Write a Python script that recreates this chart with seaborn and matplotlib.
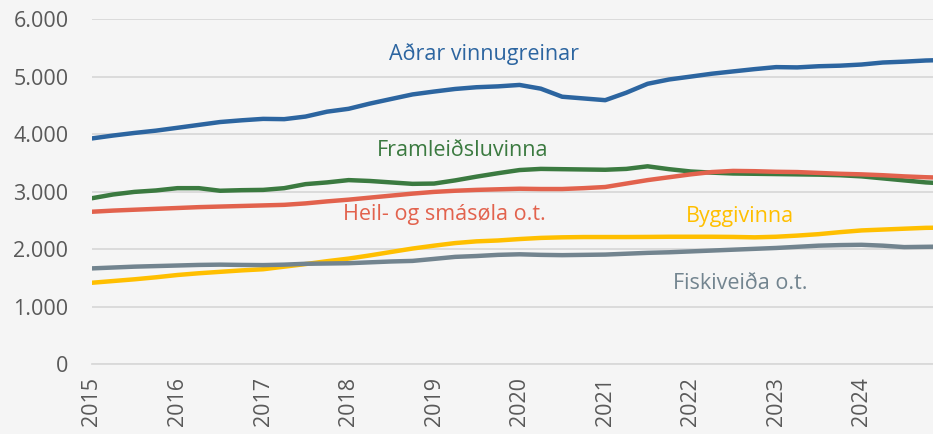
import matplotlib
matplotlib.use("Agg")
import matplotlib.pyplot as plt
import matplotlib.dates as mdates
from matplotlib.ticker import FuncFormatter
import pandas as pd
import numpy as np
import seaborn as sns

sns.set_style("white")
plt.rcParams['font.family'] = ['Open Sans', 'DejaVu Sans']

# quarterly points (2015Q1 .. 2025Q1)
dates = pd.date_range("2015-01-01", "2025-01-01", freq="QS")

adrar = [3925, 3975, 4020, 4060, 4110, 4160, 4210, 4240, 4265, 4260,
         4305, 4390, 4440, 4530, 4610, 4690, 4740, 4785, 4815, 4830,
         4855, 4790, 4650, 4620, 4590, 4720, 4875, 4950, 5000, 5050,
         5090, 5130, 5165, 5160, 5180, 5190, 5210, 5245, 5260, 5280,
         5290]
framleidsla = [2885, 2950, 2995, 3020, 3060, 3060, 3015, 3025, 3030, 3060,
               3130, 3160, 3200, 3185, 3160, 3135, 3140, 3195, 3260, 3320,
               3375, 3395, 3390, 3385, 3380, 3395, 3440, 3390, 3350, 3330,
               3315, 3310, 3305, 3300, 3295, 3285, 3265, 3230, 3195, 3160,
               3140]
verslun = [2650, 2670, 2685, 2700, 2715, 2730, 2740, 2750, 2760, 2770,
           2795, 2830, 2860, 2895, 2930, 2965, 2995, 3015, 3030, 3040,
           3050, 3045, 3045, 3060, 3080, 3140, 3200, 3250, 3300, 3340,
           3360, 3355, 3345, 3340, 3325, 3310, 3300, 3285, 3265, 3250,
           3240]
bygging = [1415, 1445, 1475, 1510, 1550, 1580, 1605, 1630, 1650, 1695,
           1740, 1790, 1835, 1890, 1950, 2010, 2060, 2105, 2135, 2150,
           2175, 2195, 2205, 2210, 2210, 2210, 2212, 2215, 2215, 2215,
           2212, 2205, 2215, 2235, 2260, 2295, 2325, 2340, 2355, 2370,
           2375]
fiskur = [1665, 1680, 1695, 1705, 1715, 1725, 1730, 1725, 1722, 1730,
          1745, 1750, 1755, 1770, 1785, 1795, 1830, 1865, 1880, 1900,
          1910, 1900, 1895, 1900, 1905, 1920, 1935, 1945, 1960, 1975,
          1990, 2005, 2020, 2040, 2060, 2070, 2075, 2060, 2035, 2040,
          2045]

names = ["Aðrar vinnugreinar", "Framleiðsluvinna", "Heil- og smásøla o.t.",
         "Byggivinna", "Fiskiveiða o.t."]
colors = ["#2c65a0", "#3b7a40", "#e2624d", "#ffbf00", "#72848f"]
# label positions (date, value) for the inline series names
label_pos = [("2019-08-01", 5400), ("2019-05-01", 3720), ("2019-02-15", 2610),
             ("2022-08-01", 2575), ("2022-08-01", 1410)]

df = pd.DataFrame({"dato": np.tile(dates, 5),
                   "series": np.repeat(names, len(dates)),
                   "value": adrar + framleidsla + verslun + bygging + fiskur})

bg = "#f5f5f5"
fig = plt.figure(figsize=(9.33, 4.34), dpi=100, facecolor=bg)
ax = fig.add_axes([0.0986, 0.161, 0.9014, 0.795])
ax.set_facecolor(bg)

sns.lineplot(data=df, x="dato", y="value", hue="series", hue_order=names,
             palette=colors, linewidth=3.2, legend=False, ax=ax, zorder=3)

for name, col, (d, v) in zip(names, colors, label_pos):
    ax.text(pd.Timestamp(d), v, name, color=col, fontsize=15.5,
            ha="center", va="center")

ax.set_xlim(pd.Timestamp("2015-01-01"), pd.Timestamp("2024-11-01"))
ax.set_ylim(0, 6000)
ax.set_yticks(range(0, 6001, 1000))
ax.yaxis.set_major_formatter(FuncFormatter(lambda v, p: f"{int(v):,}".replace(",", ".")))
ax.xaxis.set_major_locator(mdates.YearLocator())
ax.xaxis.set_major_formatter(mdates.DateFormatter("%Y"))
ax.xaxis.set_minor_locator(mdates.MonthLocator())

ax.grid(axis="y", color="#d9d9d9", linewidth=1.3, zorder=0)
for s in ["top", "right", "left"]:
    ax.spines[s].set_visible(False)
ax.spines["bottom"].set_color("#d9d9d9")
ax.spines["bottom"].set_linewidth(1.3)

ax.tick_params(axis="x", which="both", direction="in", length=4,
               color="#bfbfbf", width=0.8, labelsize=15.5,
               labelcolor="#595959", rotation=90, pad=9.5)
ax.tick_params(axis="y", length=0, labelsize=15.5, labelcolor="#595959", pad=17)
for lab in ax.get_xticklabels():
    lab.set_ha("center")
ax.set_xlabel("")
ax.set_ylabel("")

fig.savefig("out.png", dpi=100, facecolor=bg)
